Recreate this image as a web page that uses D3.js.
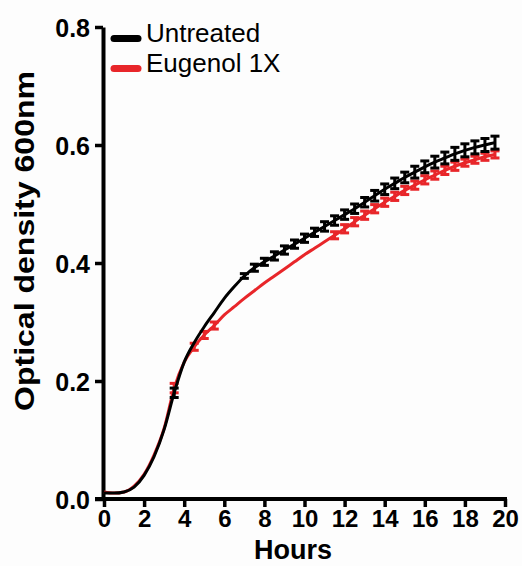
<!DOCTYPE html>
<html>
<head>
<meta charset="utf-8">
<script src="https://cdn.jsdelivr.net/npm/d3@7"></script>
<style>
  body { margin: 0; background: #fdfdfd; }
  text { font-family: "Liberation Sans", Arial, sans-serif; fill: #000; }
</style>
</head>
<body>
<div id="vis"></div>
<script>
// growth curve, OD600 read every 30 min
var hours = [0, 0.5, 1, 1.5, 2, 2.5, 3, 3.5, 4, 4.5, 5, 5.5, 6, 6.5, 7, 7.5, 8, 8.5, 9, 9.5,
  10, 10.5, 11, 11.5, 12, 12.5, 13, 13.5, 14, 14.5, 15, 15.5, 16, 16.5, 17, 17.5, 18, 18.5, 19, 19.5];

var untreated = [0.010, 0.010, 0.012, 0.020, 0.040, 0.072, 0.118, 0.180, 0.232, 0.265,
  0.292, 0.316, 0.340, 0.360, 0.378, 0.392, 0.402, 0.412, 0.422, 0.432,
  0.442, 0.452, 0.462, 0.472, 0.482, 0.492, 0.503, 0.514, 0.525, 0.535,
  0.545, 0.554, 0.563, 0.571, 0.578, 0.585, 0.591, 0.596, 0.600, 0.604];
var untreated_err = [0, 0, 0, 0, 0, 0, 0, 0.008, 0, 0,
  0, 0, 0, 0, 0.004, 0.006, 0.006, 0.007, 0.007, 0.007,
  0.007, 0.007, 0.008, 0.008, 0.008, 0.008, 0.008, 0.009, 0.009, 0.009,
  0.009, 0.010, 0.010, 0.010, 0.010, 0.011, 0.011, 0.011, 0.011, 0.011];

var eugenol = [0.012, 0.010, 0.012, 0.022, 0.042, 0.075, 0.120, 0.188, 0.232, 0.258,
  0.278, 0.294, 0.312, 0.326, 0.340, 0.353, 0.366, 0.378, 0.390, 0.402,
  0.414, 0.425, 0.436, 0.447, 0.458, 0.470, 0.481, 0.492, 0.503, 0.513,
  0.523, 0.532, 0.541, 0.549, 0.557, 0.564, 0.570, 0.575, 0.580, 0.584];
var eugenol_err = [0, 0, 0, 0, 0, 0, 0, 0.008, 0, 0.006,
  0.006, 0.006, 0, 0, 0, 0, 0, 0, 0, 0,
  0, 0, 0, 0.006, 0.007, 0.007, 0.007, 0.007, 0.007, 0.007,
  0.007, 0.007, 0.007, 0.007, 0.007, 0.007, 0.006, 0.006, 0.006, 0.006];

var x_ticks = [0, 2, 4, 6, 8, 10, 12, 14, 16, 18, 20];
var y_ticks = [0, 0.2, 0.4, 0.6, 0.8];

var series = [
  {"name": "Eugenol 1X", "color": "#e8262a", "values": eugenol, "err": eugenol_err},
  {"name": "Untreated", "color": "#000000", "values": untreated, "err": untreated_err}
];

var opts = {
  "width": 522,
  "height": 566
};

var svg = d3.select("#vis")
  .append("svg")
  .attr("width", opts.width)
  .attr("height", opts.height);

var x = d3.scaleLinear().domain([0, 20]).range([104, 505]);
var y = d3.scaleLinear().domain([0, 0.8]).range([499, 27]);

// axes
var xAxis = svg.append("g")
  .attr("transform", "translate(0," + y(0) + ")")
  .call(d3.axisBottom(x).tickValues(x_ticks).tickSize(8).tickPadding(3).tickSizeOuter(0));
var yAxis = svg.append("g")
  .attr("transform", "translate(" + 103 + ",0)")
  .call(d3.axisLeft(y).tickValues(y_ticks).tickSize(8).tickPadding(5).tickSizeOuter(0)
    .tickFormat(d3.format(".1f")));

[xAxis, yAxis].forEach(function(ax) {
  ax.select(".domain").attr("stroke", "#000").attr("stroke-width", 4);
  ax.selectAll(".tick line").attr("stroke", "#000").attr("stroke-width", 3.5);
  ax.selectAll(".tick text")
    .attr("font-weight", "bold")
    .attr("fill", "#000");
});
xAxis.selectAll(".tick text").attr("font-size", 24).attr("dy", "0.72em");
yAxis.selectAll(".tick text").attr("font-size", 25).attr("dy", "0.36em");
// x axis line runs left to meet the 0.0 tick
xAxis.select(".domain").attr("d", "M95,0H507");

// series
var line = d3.line()
  .x(function(d) { return x(d[0]); })
  .y(function(d) { return y(d[1]); })
  .curve(d3.curveMonotoneX);

series.forEach(function(s) {
  var pts = hours.map(function(h, i) { return [h, s.values[i], s.err[i]]; });
  var g = svg.append("g");

  g.append("path")
    .datum(pts)
    .attr("d", line)
    .attr("fill", "none")
    .attr("stroke", s.color)
    .attr("stroke-width", 3);

  var bars = g.selectAll(".err")
    .data(pts.filter(function(d) { return d[2] > 0; }))
    .enter()
    .append("g")
    .classed("err", true)
    .attr("stroke", s.color)
    .attr("stroke-width", 3);

  bars.append("line")
    .attr("x1", function(d) { return x(d[0]); })
    .attr("x2", function(d) { return x(d[0]); })
    .attr("y1", function(d) { return y(d[1] - d[2]); })
    .attr("y2", function(d) { return y(d[1] + d[2]); });
  bars.append("line")
    .attr("x1", function(d) { return x(d[0]) - 4.5; })
    .attr("x2", function(d) { return x(d[0]) + 4.5; })
    .attr("y1", function(d) { return y(d[1] + d[2]); })
    .attr("y2", function(d) { return y(d[1] + d[2]); });
  bars.append("line")
    .attr("x1", function(d) { return x(d[0]) - 4.5; })
    .attr("x2", function(d) { return x(d[0]) + 4.5; })
    .attr("y1", function(d) { return y(d[1] - d[2]); })
    .attr("y2", function(d) { return y(d[1] - d[2]); });
});

// axis titles
svg.append("text")
  .attr("x", 293)
  .attr("y", 559)
  .attr("text-anchor", "middle")
  .attr("font-size", 27)
  .attr("font-weight", "bold")
  .text("Hours");

svg.append("text")
  .attr("transform", "translate(34,241) rotate(-90)")
  .attr("text-anchor", "middle")
  .attr("font-size", 27)
  .attr("font-weight", "bold")
  .attr("textLength", 340)
  .attr("lengthAdjust", "spacingAndGlyphs")
  .text("Optical density 600nm");

// legend
var legend = svg.append("g");
var legend_items = series.slice().reverse();
legend_items.forEach(function(s, i) {
  var ly = 38.5 + i * 30;
  legend.append("line")
    .attr("x1", 114)
    .attr("x2", 138)
    .attr("y1", ly)
    .attr("y2", ly)
    .attr("stroke", s.color)
    .attr("stroke-width", 7)
    .attr("stroke-linecap", "round");
  legend.append("text")
    .attr("x", 146)
    .attr("y", ly + 3.5)
    .attr("font-size", 26)
    .text(s.name);
});
</script>
</body>
</html>
